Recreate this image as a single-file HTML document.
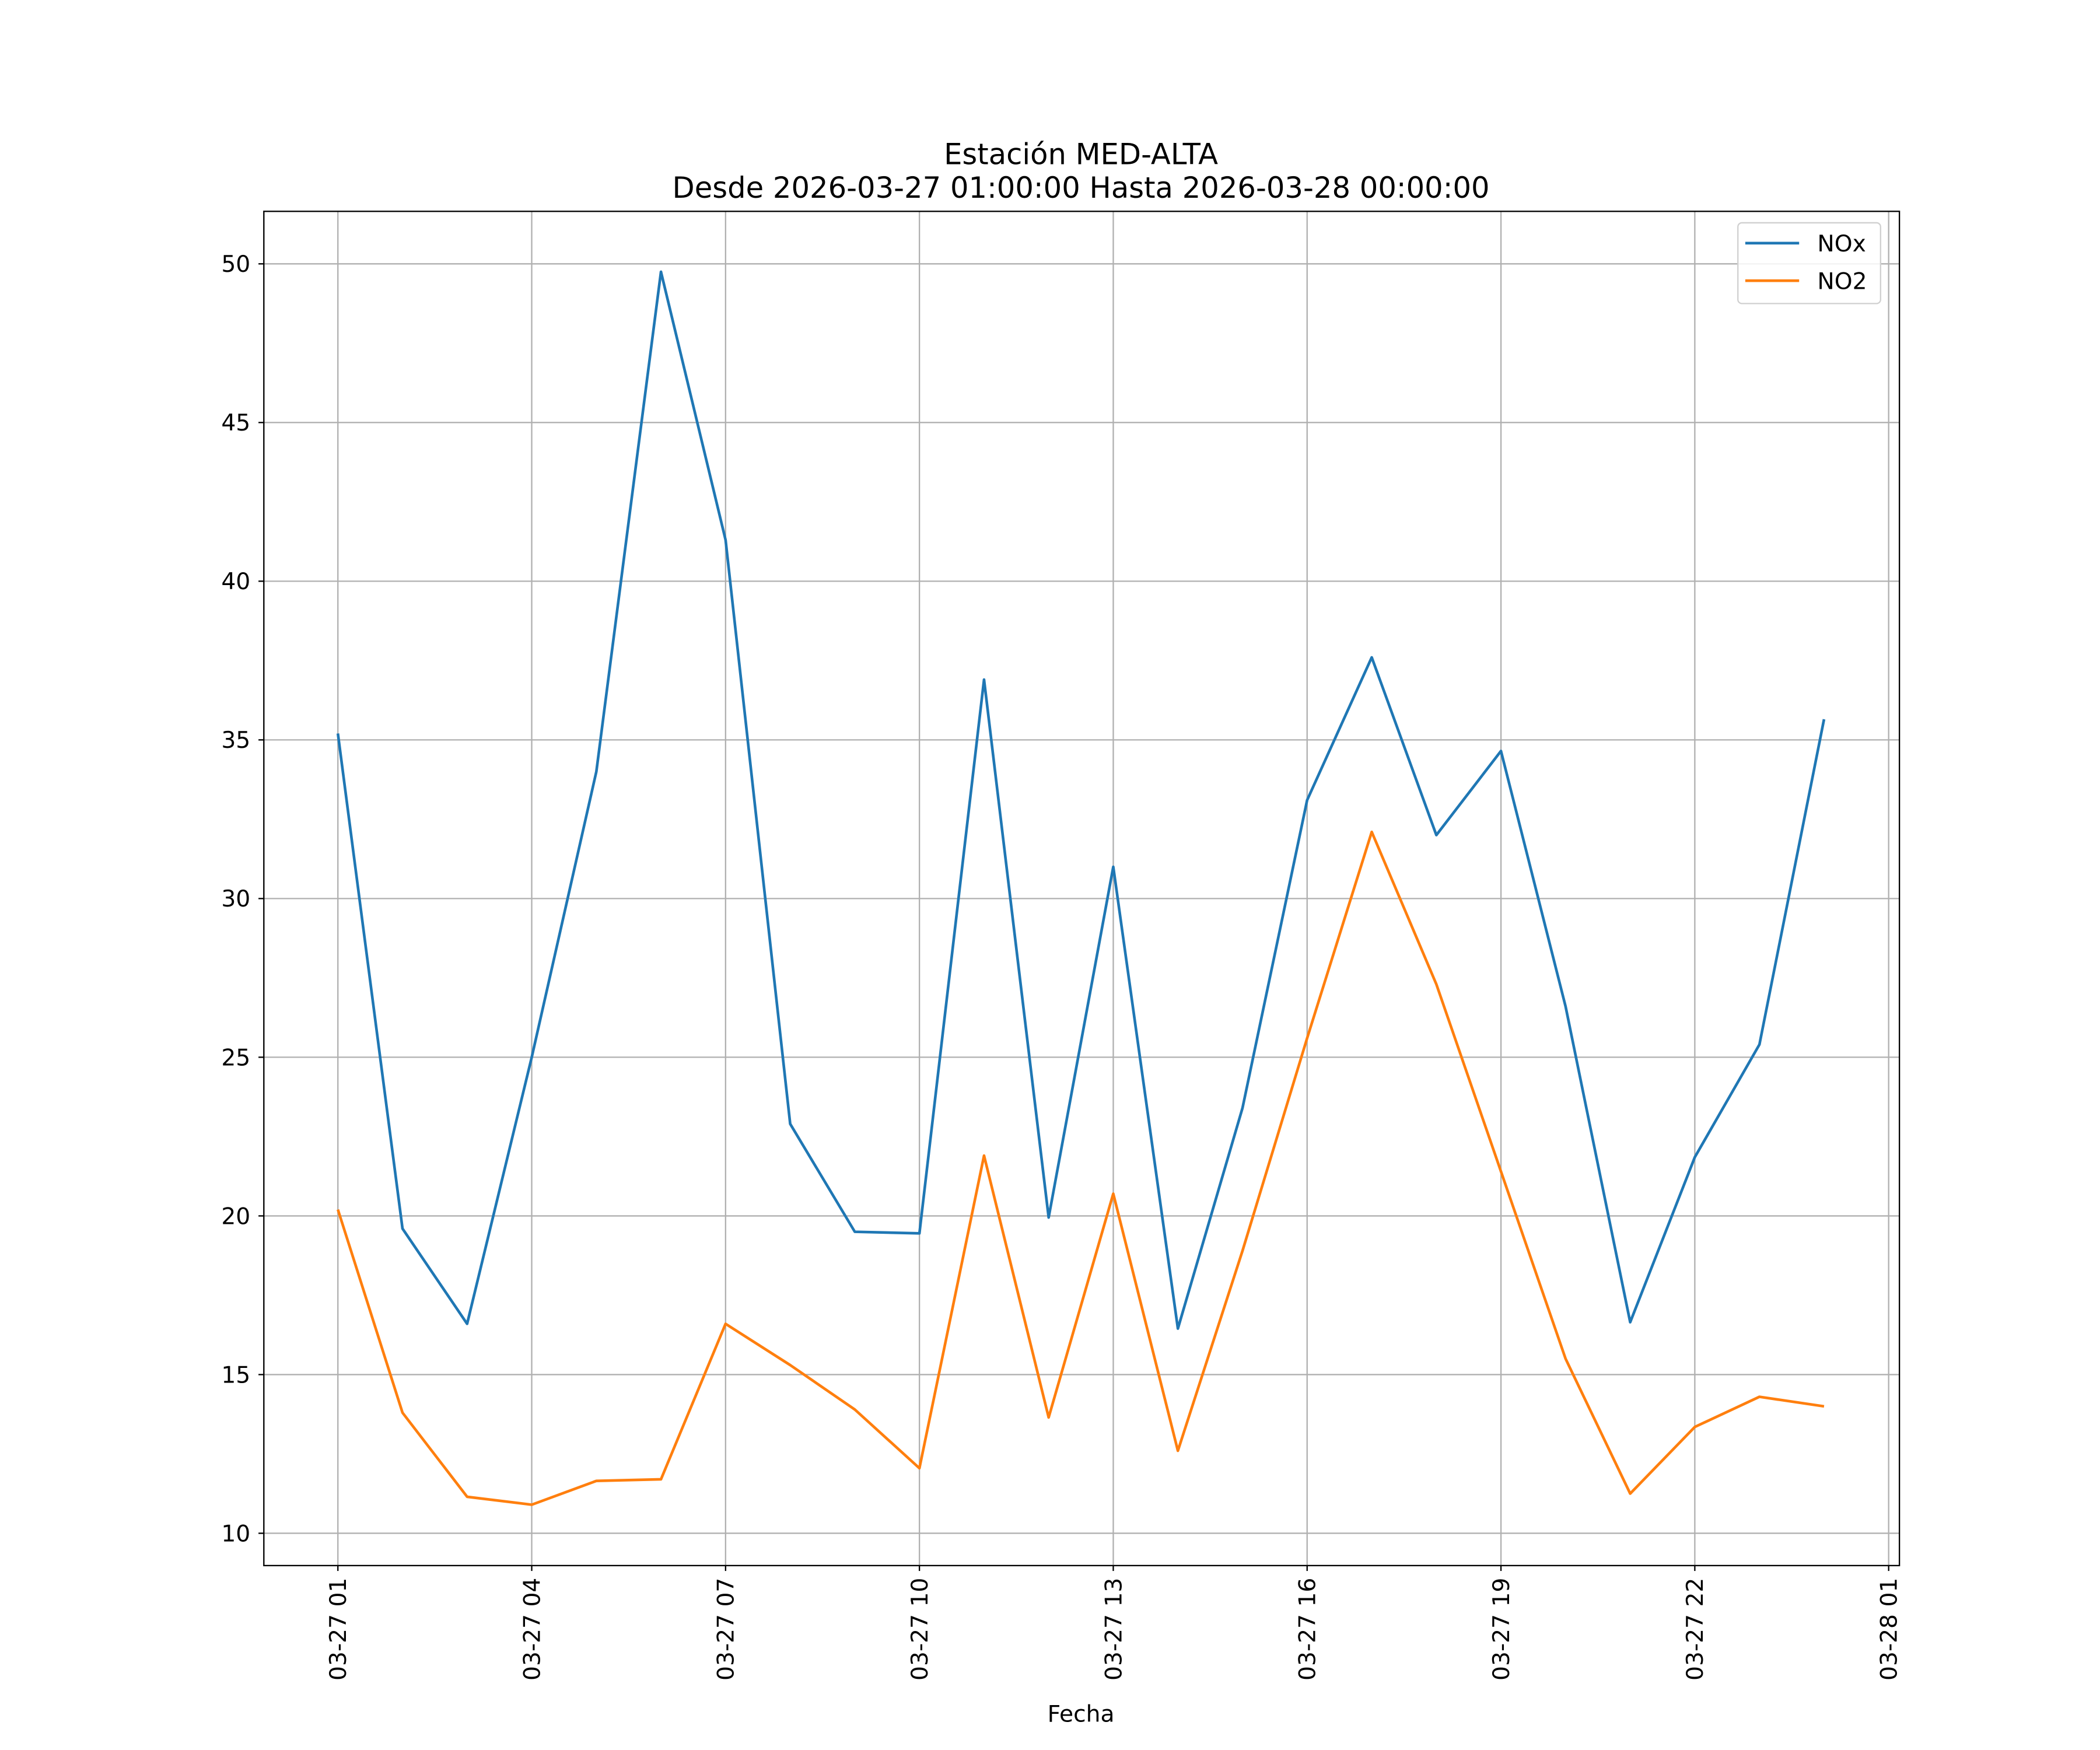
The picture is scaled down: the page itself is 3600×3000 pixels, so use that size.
<!DOCTYPE html>
<html><head><meta charset="utf-8"><style>
html,body{margin:0;padding:0;background:#fff;}
svg{display:block;font-family:"DejaVu Sans","Liberation Sans",sans-serif;}
</style></head><body>
<svg id="chart" width="3600" height="3000" viewBox="0 0 1560 1300" xmlns="http://www.w3.org/2000/svg">
<rect x="0" y="0" width="1560" height="1300" fill="#fff"/>
<g id="grid"></g>
<g id="series"></g>
<rect x="196" y="157" width="1215" height="1006" fill="none" stroke="#000" stroke-width="1"/>
<g id="ticks"></g>
<text x="803" y="122" text-anchor="middle" font-size="21.5">Estación MED-ALTA</text>
<text x="803" y="147" text-anchor="middle" font-size="21.5">Desde 2026-03-27 01:00:00 Hasta 2026-03-28 00:00:00</text>
<text x="803" y="1279" text-anchor="middle" font-size="17">Fecha</text>
<g>
<rect x="1291" y="165.5" width="106" height="60" rx="3" fill="#fff" fill-opacity="0.85" stroke="#d0d0d0"/>
<line x1="1296.5" y1="180.6" x2="1336.5" y2="180.6" stroke="#1f77b4" stroke-width="2"/>
<text x="1350" y="186.8" font-size="17">NOx</text>
<line x1="1296.5" y1="208.5" x2="1336.5" y2="208.5" stroke="#ff7f0e" stroke-width="2"/>
<text x="1350" y="214.7" font-size="17">NO2</text>
</g>
</svg>
<script>
const hours = [1,2,3,4,5,6,7,8,9,10,11,12,13,14,15,16,17,18,19,20,21,22,23,24];
const noxValues = [35.2,19.6,16.6,25.0,34.0,49.75,41.3,22.9,19.5,19.45,36.9,19.95,31.0,16.45,23.4,33.1,37.6,32.0,34.65,26.6,16.65,21.85,25.4,35.65];
const no2Values = [20.2,13.8,11.15,10.9,11.65,11.7,16.6,15.3,13.9,12.05,21.9,13.65,20.7,12.6,18.9,25.6,32.1,27.3,21.4,15.5,11.25,13.35,14.3,14.0];
const yTicks = [10,15,20,25,30,35,40,45,50];
const xTickHours = [1,4,7,10,13,16,19,22,25];
const xTickLabels = ["03-27 01","03-27 04","03-27 07","03-27 10","03-27 13","03-27 16","03-27 19","03-27 22","03-28 01"];

const NS = "http://www.w3.org/2000/svg";
function xs(h){ return 251 + (h-1)*48; }
function ys(v){ return 1139 - (v-10)*23.575; }
function mk(tag, attrs, parent){
  const e = document.createElementNS(NS, tag);
  for (const k in attrs) e.setAttribute(k, attrs[k]);
  parent.appendChild(e);
  return e;
}
const grid = document.getElementById('grid');
const ticks = document.getElementById('ticks');
const series = document.getElementById('series');

yTicks.forEach(v => {
  const y = ys(v);
  const g = mk('line', {x1:196, x2:1411, y1:y, y2:y, stroke:'#b0b0b0', 'stroke-width':1}, grid);
  
  
  const t = mk('line', {x1:192, x2:196, y1:y, y2:y, stroke:'#000'}, ticks);
  
  
  const l = mk('text', {x:186, y:y+6, 'text-anchor':'end', 'font-size':17}, ticks);
  l.textContent = String(v);
  
  
});
xTickHours.forEach((h, i) => {
  const x = xs(h);
  const g = mk('line', {x1:x, x2:x, y1:157, y2:1163, stroke:'#b0b0b0', 'stroke-width':1}, grid);
  
  
  const t = mk('line', {x1:x, x2:x, y1:1163, y2:1167, stroke:'#000'}, ticks);
  
  
  const l = mk('text', {x:0, y:0, 'text-anchor':'end', 'font-size':17, transform:`translate(${x+6},1172) rotate(-90)`}, ticks);
  l.textContent = xTickLabels[i];
  
  
});
function line(vals, color, name){
  const pts = vals.map((v,i) => xs(hours[i]) + ',' + ys(v)).join(' ');
  const p = mk('polyline', {points:pts, fill:'none', stroke:color, 'stroke-width':2, 'stroke-linejoin':'round'}, series);
  
  
}
line(noxValues, '#1f77b4', 'nox-line');
line(no2Values, '#ff7f0e', 'no2-line');
</script>
</body></html>
